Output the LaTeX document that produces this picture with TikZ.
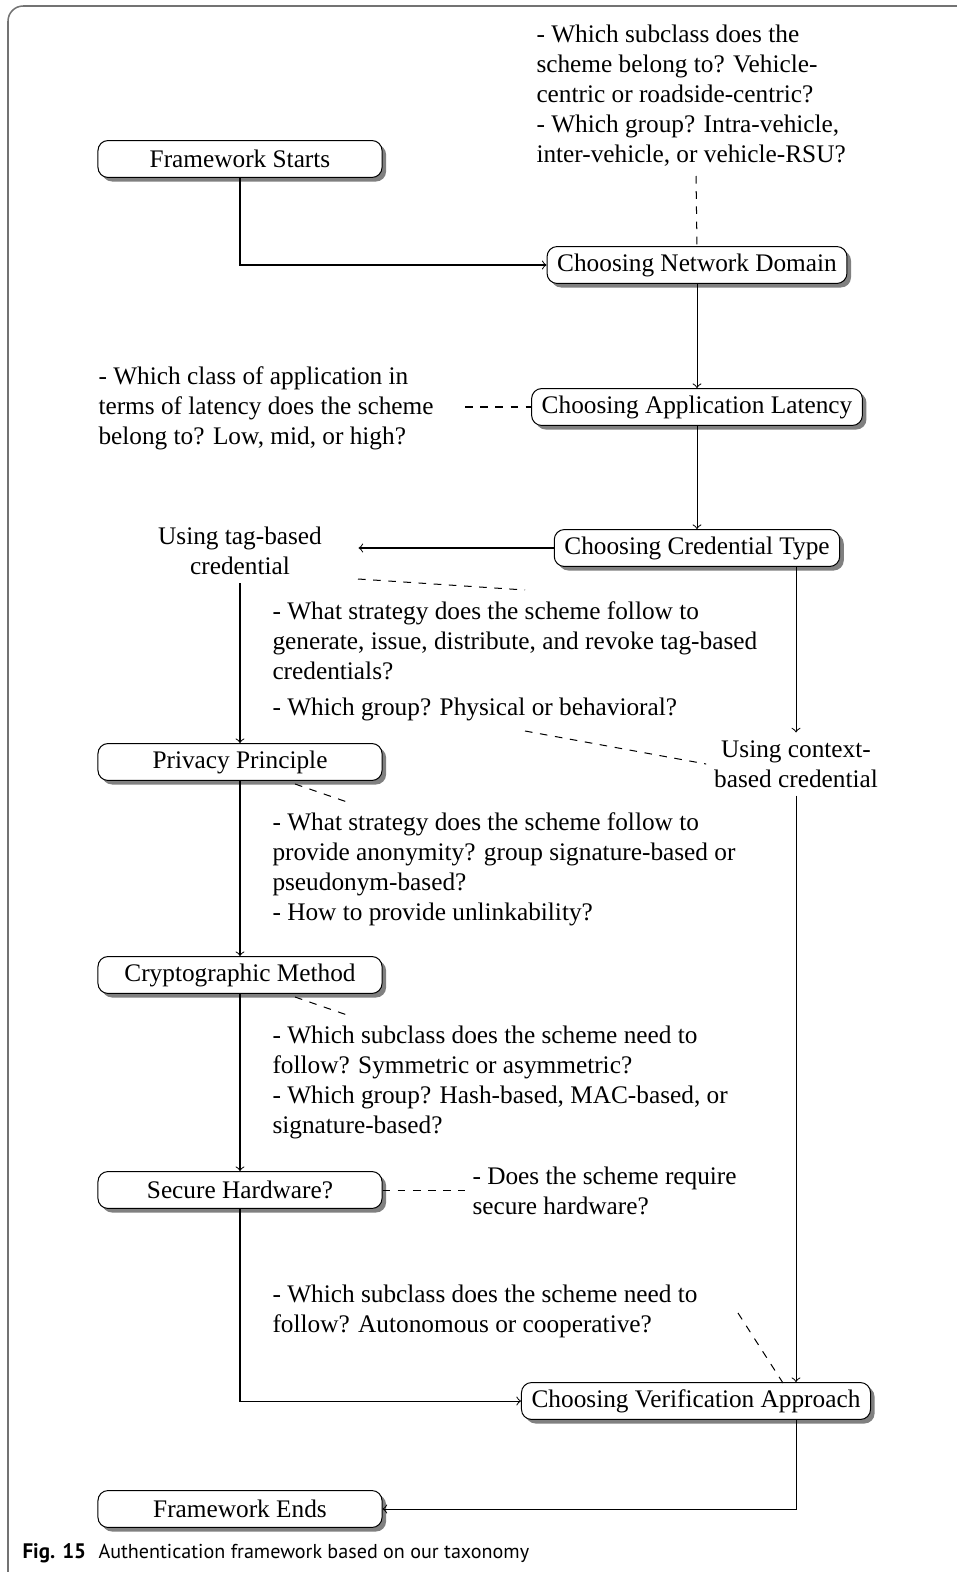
\documentclass[tikz,border=0pt]{standalone}
\usepackage{fontspec}
\setmainfont{Liberation Serif}
\newfontfamily\capfont{PT Sans}
\usetikzlibrary{shadows}
\begin{document}
\begin{tikzpicture}[x=0.3953pt,y=-0.3953pt,
  font=\fontsize{10}{11.86}\selectfont,
  box/.style={draw, rounded corners=4pt, fill=white, minimum width=112.3pt,
    minimum height=14.6pt, inner xsep=4pt, inner ysep=0pt,
    drop shadow={shadow xshift=1.6pt, shadow yshift=-1.6pt, fill=black!50, opacity=1}},
  note/.style={align=left, inner sep=0pt, anchor=west},
  lbl/.style={align=center, inner sep=3pt},
  arr/.style={->, line width=0.4pt},
  dsh/.style={dashed, line width=0.4pt},
  capstyle/.style={font=\capfont\fontsize{7.95}{10}\selectfont, inner sep=0pt, anchor=base west}]
\useasboundingbox (0,0) rectangle (957,1572);
\draw[black!55, line width=0.6pt, rounded corners=6pt] (8,1572) -- (8,6) -- (957,6);

% main nodes
\node[box] (fs) at (240,159) {Framework Starts};
\node[box] (nd) at (697,265) {Choosing Network Domain};
\node[box] (al) at (697,407) {Choosing Application Latency};
\node[box] (ct) at (697,548) {Choosing Credential Type};
\node[lbl, minimum width=93.3pt] (tag) at (240,551) {Using tag-based\\credential};
\node[lbl] (ctx) at (796,764) {Using context-\\based credential};
\node[box] (pp) at (240,762) {Privacy Principle};
\node[box] (cm) at (240,975) {Cryptographic Method};
\node[box] (sh) at (240,1190) {Secure Hardware?};
\node[box] (va) at (696,1401) {Choosing Verification Approach};
\node[box] (fe) at (240,1509) {Framework Ends};

% notes
\node[note] (n1) at (536,96) {- Which subclass does the\\scheme belong to? Vehicle-\\centric or roadside-centric?\\- Which group? Intra-vehicle,\\inter-vehicle, or vehicle-RSU?};
\node[note] (n2) at (98,408) {- Which class of application in\\terms of latency does the scheme\\belong to? Low, mid, or high?};
\node[note] (n3) at (272,641) {- What strategy does the scheme follow to\\generate, issue, distribute, and revoke tag-based\\credentials?};
\node[note] (n4) at (272,709) {- Which group? Physical or behavioral?};
\node[note] (n5) at (272,869) {- What strategy does the scheme follow to\\provide anonymity? group signature-based or\\pseudonym-based?\\- How to provide unlinkability?};
\node[note] (n6) at (272,1082) {- Which subclass does the scheme need to\\follow? Symmetric or asymmetric?\\- Which group? Hash-based, MAC-based, or\\signature-based?};
\node[note] (n7) at (472,1191) {- Does the scheme require\\secure hardware?};
\node[note] (n8) at (272,1311) {- Which subclass does the scheme need to\\follow? Autonomous or cooperative?};

% caption
\node[capstyle, font=\capfont\fontsize{8.3}{10}\selectfont] (figl) at (22,1558) {\bfseries Fig. 15};
\node[capstyle] (capt) at (98,1558) {Authentication framework based on our taxonomy};

% coordinates for dashed links
\coordinate (d1) at (696,176);
\coordinate (d2) at (465,407);
\coordinate (d3a) at (358,579);
\coordinate (d3b) at (525,590);
\coordinate (d4) at (525,731);
\coordinate (d5a) at (295,784);
\coordinate (d5b) at (350,803);
\coordinate (d6a) at (295,997);
\coordinate (d6b) at (350,1016);
\coordinate (d7) at (465,1190);
\coordinate (d8a) at (738,1313);
\coordinate (d8b) at (783,1383);

% solid connectors
\draw[arr] (fs.south) |- (nd.west);
\draw[arr] (nd.south) -- (al.north);
\draw[arr] (al.south) -- (ct.north);
\draw[arr] (ct.west) -- (ct.west -| tag.east);
\draw[arr] (ctx.north |- ct.south) -- (ctx.north);
\draw[arr] (ctx.south) -- (ctx.south |- va.north);
\draw[arr] (tag.south) -- (pp.north);
\draw[arr] (pp.south) -- (cm.north);
\draw[arr] (cm.south) -- (sh.north);
\draw[arr] (sh.south) |- (va.west);
\draw[arr] (ctx.south |- va.south) |- (fe.east);

% dashed connectors
\draw[dsh] (d1) -- (nd.north);
\draw[dsh] (d2) -- (al.west);
\draw[dsh] (d3a) -- (d3b);
\draw[dsh] (d4) -- (ctx.west);
\draw[dsh] (d5a) -- (d5b);
\draw[dsh] (d6a) -- (d6b);
\draw[dsh] (sh.east) -- (d7);
\draw[dsh] (d8a) -- (d8b);
\end{tikzpicture}
\end{document}
